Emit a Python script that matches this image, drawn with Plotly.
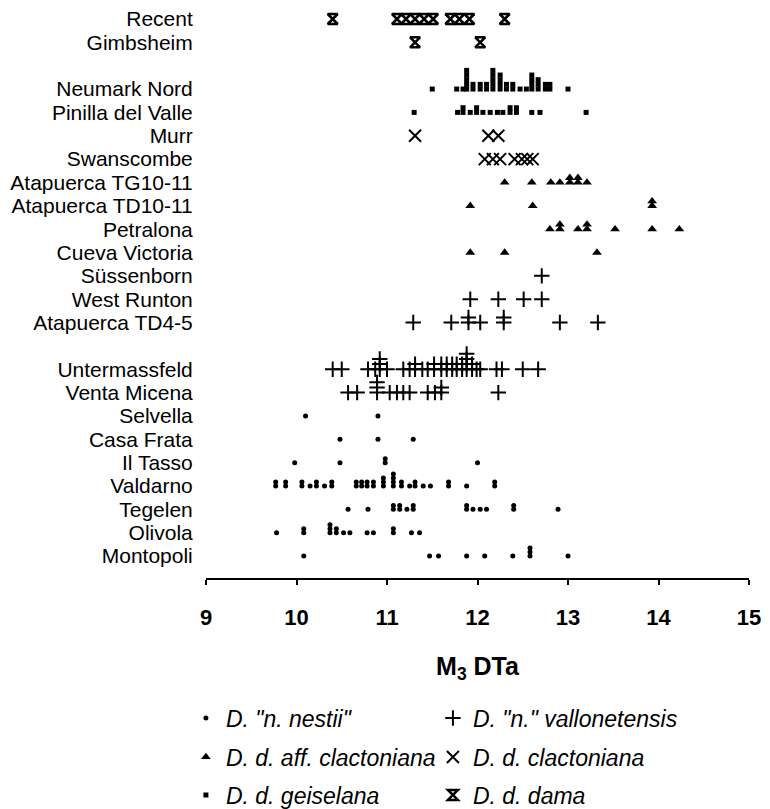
import plotly.graph_objects as go
from collections import Counter

# ---------------- data ----------------
SITES = ["Recent", "Gimbsheim", "", "Neumark Nord", "Pinilla del Valle", "Murr", "Swanscombe",
         "Atapuerca TG10-11", "Atapuerca TD10-11", "Petralona", "Cueva Victoria", "Süssenborn",
         "West Runton", "Atapuerca TD4-5", "", "Untermassfeld", "Venta Micena", "Selvella",
         "Casa Frata", "Il Tasso", "Valdarno", "Tegelen", "Olivola", "Montopoli"]

X_TICKS = [9, 10, 11, 12, 13, 14, 15]

NESTII = {
    "Selvella": [10.1, 10.9],
    "Casa Frata": [10.48, 10.9, 11.29],
    "Il Tasso": [9.98, 10.48, 10.98, 10.98, 12.0],
    "Valdarno": [9.77, 9.77, 9.88, 9.88, 10.06, 10.06, 10.15, 10.22, 10.22, 10.31, 10.39, 10.39,
                 10.66, 10.66, 10.72, 10.72, 10.78, 10.78, 10.85, 10.85, 10.96, 10.96, 10.96,
                 11.07, 11.07, 11.07, 11.07, 11.16, 11.16, 11.25, 11.31, 11.31, 11.4, 11.48,
                 11.68, 11.68, 11.88, 12.19, 12.19],
    "Tegelen": [10.57, 10.79, 11.07, 11.07, 11.14, 11.14, 11.22, 11.29, 11.29, 11.88, 11.88,
                11.95, 12.03, 12.1, 12.4, 12.4, 12.89],
    "Olivola": [9.78, 10.08, 10.08, 10.37, 10.37, 10.37, 10.44, 10.44, 10.52, 10.59, 10.78,
                10.85, 11.07, 11.07, 11.27, 11.36],
    "Montopoli": [10.08, 11.47, 11.57, 11.88, 12.08, 12.39, 12.58, 12.58, 12.58, 13.0],
}

VALLONETENSIS = {
    "Süssenborn": [12.71],
    "West Runton": [11.92, 12.23, 12.51, 12.71],
    "Atapuerca TD4-5": [11.29, 11.71, 11.9, 11.9, 12.03, 12.29, 12.29, 12.91, 13.33],
    "Untermassfeld": [10.4, 10.5, 10.79, 10.87, 10.92, 10.92, 10.92, 11.0, 11.18, 11.25, 11.31,
                      11.31, 11.39, 11.45, 11.52, 11.52, 11.6, 11.6, 11.66, 11.66, 11.72, 11.72,
                      11.77, 11.77, 11.83, 11.83, 11.88, 11.88, 11.88, 11.88, 11.94, 11.94,
                      11.99, 12.03, 12.21, 12.27, 12.5, 12.67],
    "Venta Micena": [10.57, 10.67, 10.89, 10.89, 10.89, 11.03, 11.11, 11.18, 11.25, 11.45,
                     11.53, 11.6, 11.6, 12.23],
}

AFF_CLACTONIANA = {
    "Atapuerca TG10-11": [12.3, 12.6, 12.81, 12.91, 13.02, 13.02, 13.11, 13.11, 13.21],
    "Atapuerca TD10-11": [11.92, 12.61, 13.93, 13.93],
    "Petralona": [12.8, 12.91, 12.91, 13.11, 13.21, 13.21, 13.52, 13.93, 14.23],
    "Cueva Victoria": [11.92, 12.3, 13.32],
}

CLACTONIANA = {
    "Murr": [11.31, 12.12, 12.23],
    "Swanscombe": [12.08, 12.17, 12.25, 12.41, 12.49, 12.55, 12.61],
}

GEISELANA = {
    "Neumark Nord": [11.5, 11.77, 11.84, 11.88, 11.88, 11.88, 11.88, 11.88, 11.95, 11.95,
                     12.03, 12.03, 12.1, 12.1, 12.17, 12.17, 12.17, 12.17, 12.17,
                     12.25, 12.25, 12.25, 12.25, 12.32, 12.32, 12.39, 12.39, 12.47, 12.54,
                     12.6, 12.6, 12.6, 12.6, 12.67, 12.67, 12.67, 12.75, 12.75, 12.8, 12.8, 13.0],
    "Pinilla del Valle": [11.3, 11.78, 11.84, 11.84, 11.92, 11.99, 11.99, 12.06, 12.14, 12.22,
                          12.28, 12.36, 12.36, 12.43, 12.43, 12.6, 12.69, 13.2],
}

DAMA = {
    "Recent": [10.4, 11.11, 11.21, 11.31, 11.41, 11.51, 11.7, 11.8, 11.91, 12.3],
    "Gimbsheim": [11.31, 12.03],
}

SERIES = [
    ('D. "n. nestii"', NESTII, "legend"),
    ('D. "n." vallonetensis', VALLONETENSIS, "legend"),
    ("D. d. aff. clactoniana", AFF_CLACTONIANA, "legend2"),
    ("D. d. clactoniana", CLACTONIANA, "legend2"),
    ("D. d. geiselana", GEISELANA, "legend3"),
    ("D. d. dama", DAMA, "legend3"),
]

# ---------------- styles ----------------
FONT = "Liberation Sans, Arial, Helvetica, sans-serif"
STYLES = {
    'D. "n. nestii"': dict(symbol="circle", size=5, color="black"),
    'D. "n." vallonetensis': dict(symbol="cross-thin-open", size=11, color="black",
                                  line=dict(width=2, color="black")),
    "D. d. aff. clactoniana": dict(symbol="triangle-up", size=8.5, color="black"),
    "D. d. clactoniana": dict(symbol="x-thin-open", size=12, color="black",
                              line=dict(width=2, color="black")),
    "D. d. geiselana": dict(symbol="square", size=5, color="black"),
    "D. d. dama": dict(symbol="hourglass-open", size=10, color="black",
                       line=dict(width=2.5, color="black")),
}
STACK_STEP = {
    'D. "n. nestii"': 0.17,
    'D. "n." vallonetensis': 0.22,
    "D. d. aff. clactoniana": 0.2,
    "D. d. clactoniana": 0.2,
    "D. d. geiselana": 0.2,
    "D. d. dama": 0.2,
}


def stacked(points, step):
    xs, ys = [], []
    for site, vals in points.items():
        row = SITES.index(site)
        seen = Counter()
        for v in vals:
            xs.append(v)
            ys.append(row - seen[v] * step)
            seen[v] += 1
    return xs, ys


fig = go.Figure()
for name, pts, leg in SERIES:
    xs, ys = stacked(pts, STACK_STEP[name])
    fig.add_trace(go.Scatter(x=xs, y=ys, mode="markers", name=name, legend=leg,
                             marker=STYLES[name], cliponaxis=False,
                             hoverinfo="x+name"))

tickvals = [i for i, s in enumerate(SITES) if s]
ticktext = [s for s in SITES if s]

# the page body adds an 8 px offset, so the figure fills the remaining window
legend_common = dict(orientation="h", xanchor="left", yanchor="middle", x=-0.037,
                     entrywidth=202, entrywidthmode="pixels",
                     bgcolor="rgba(0,0,0,0)",
                     font=dict(family=FONT, size=23, color="black", style="italic"))

fig.update_layout(
    width=762, height=801,
    margin=dict(l=198, r=21, t=0, b=231, autoexpand=False),
    paper_bgcolor="white", plot_bgcolor="white",
    font=dict(family=FONT, color="black"),
    showlegend=True,
    legend=dict(legend_common, y=-0.2456),
    legend2=dict(legend_common, y=-0.3140),
    legend3=dict(legend_common, y=-0.3807),
    xaxis=dict(range=[9, 15], tickvals=X_TICKS, ticks="outside", ticklen=5, tickwidth=1.5,
               tickcolor="black", showline=True, linecolor="black", linewidth=2,
               showgrid=False, zeroline=False, automargin=False, ticklabelstandoff=14,
               tickfont=dict(family=FONT, size=22, weight="bold", color="black"),
               title=dict(text="M<sub>3</sub> DTa", standoff=28,
                          font=dict(family=FONT, size=25, weight="bold", color="black"))),
    yaxis=dict(range=[23.94, -0.471], tickvals=tickvals, ticktext=ticktext,
               ticks="outside", ticklen=8, tickcolor="rgba(0,0,0,0)", automargin=False,
               ticklabeloverflow="allow",
               showline=False, showgrid=False, zeroline=False,
               tickfont=dict(family=FONT, size=21, color="black")),
)

fig.write_html("out.html")
